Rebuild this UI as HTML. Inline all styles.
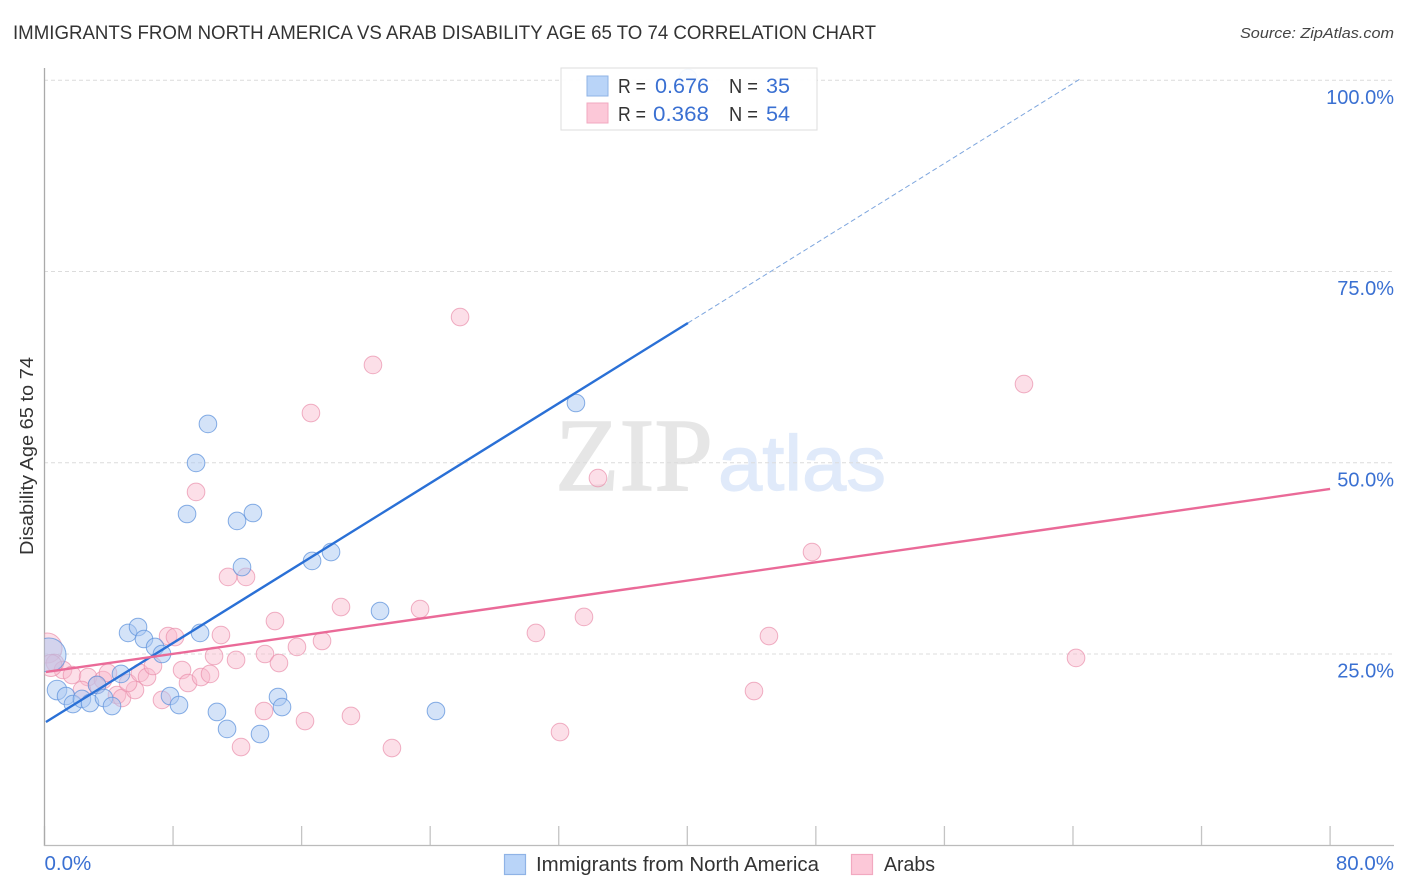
<!DOCTYPE html>
<html lang="en">
<head>
<meta charset="utf-8">
<title>Immigrants from North America vs Arab Disability Age 65 to 74 Correlation Chart</title>
<style>
html,body{margin:0;padding:0;background:#fff;}
svg{display:block;font-family:"Liberation Sans",sans-serif;}
</style>
</head>
<body>
<svg id="chart" xmlns="http://www.w3.org/2000/svg" width="1406" height="892" viewBox="0 0 1406 892">
  <defs>
    <clipPath id="plot-clip"><rect x="44.5" y="60" width="1350" height="786"/></clipPath>
  </defs>
  <text x="13" y="39" font-size="19.5" fill="#333" textLength="863" lengthAdjust="spacingAndGlyphs">IMMIGRANTS FROM NORTH AMERICA VS ARAB DISABILITY AGE 65 TO 74 CORRELATION CHART</text>
  <text x="1394" y="38" font-size="15" font-style="italic" fill="#444" text-anchor="end" textLength="154" lengthAdjust="spacingAndGlyphs">Source: ZipAtlas.com</text>
  <g>
    <text x="555" y="490" font-family="'Liberation Serif',serif" font-size="104" fill="#e6e6e6" stroke="#e6e6e6" stroke-width="1.4" textLength="158" lengthAdjust="spacingAndGlyphs">ZIP</text>
    <text x="718" y="490" font-size="78" fill="#e0eafa" stroke="#e0eafa" stroke-width="1.2" textLength="168" lengthAdjust="spacingAndGlyphs">atlas</text>
  </g>
  <g id="grid"></g>
  <g id="xticks"></g>
  <line x1="44.5" y1="68" x2="44.5" y2="846" stroke="#aaa" stroke-width="1.3"/>
  <line x1="44" y1="845.5" x2="1394" y2="845.5" stroke="#bbb" stroke-width="1.3"/>
  <g id="ylabels"></g>
  <g id="xlabels"></g>
  <text transform="translate(33,456) rotate(-90)" font-size="18.5" fill="#333" text-anchor="middle" textLength="198" lengthAdjust="spacingAndGlyphs">Disability Age 65 to 74</text>
  <g id="points" clip-path="url(#plot-clip)"></g>
  <g id="lines"></g>
  <g>
    <rect x="561" y="68" width="256" height="62" fill="#fff" fill-opacity="0.92" stroke="#ddd" stroke-width="1"/>
    <rect x="587" y="76" width="21" height="20" fill="#b9d4f8" stroke="#8fb3e6" stroke-width="1"/>
    <rect x="587" y="103" width="21" height="20" fill="#fcc8d8" stroke="#f2a9c0" stroke-width="1"/>
    <text x="618" y="93" font-size="20" fill="#333" textLength="28" lengthAdjust="spacingAndGlyphs">R =</text>
    <text x="655" y="93" font-size="21" fill="#3a70d2" textLength="54" lengthAdjust="spacingAndGlyphs">0.676</text>
    <text x="729" y="93" font-size="20" fill="#333" textLength="29" lengthAdjust="spacingAndGlyphs">N =</text>
    <text x="766" y="93" font-size="21" fill="#3a70d2" textLength="24" lengthAdjust="spacingAndGlyphs">35</text>
    <text x="618" y="121" font-size="20" fill="#333" textLength="28" lengthAdjust="spacingAndGlyphs">R =</text>
    <text x="653" y="121" font-size="21" fill="#3a70d2" textLength="56" lengthAdjust="spacingAndGlyphs">0.368</text>
    <text x="729" y="121" font-size="20" fill="#333" textLength="29" lengthAdjust="spacingAndGlyphs">N =</text>
    <text x="766" y="121" font-size="21" fill="#3a70d2" textLength="24" lengthAdjust="spacingAndGlyphs">54</text>
  </g>
  <g>
    <rect x="504.5" y="854.5" width="21" height="20" fill="#b9d4f8" stroke="#8fb3e6" stroke-width="1.2"/>
    <text x="536" y="871" font-size="20" fill="#333" textLength="283" lengthAdjust="spacingAndGlyphs">Immigrants from North America</text>
    <rect x="851.5" y="854.5" width="21" height="20" fill="#fcc8d8" stroke="#f2a9c0" stroke-width="1.2"/>
    <text x="884" y="871" font-size="20" fill="#333" textLength="51" lengthAdjust="spacingAndGlyphs">Arabs</text>
  </g>
</svg>
<script>
const immigrantsX = [0.28,0.78,1.34,1.77,2.33,2.83,3.27,3.70,4.20,4.76,5.20,5.82,6.19,6.88,7.31,7.81,8.37,8.87,9.43,9.68,10.17,10.73,11.36,11.98,12.29,12.97,13.41,14.53,14.78,16.65,17.83,20.88,24.36,33.07,40.04];
const immigrantsY = [24.87,20.29,19.51,18.46,19.12,18.59,20.95,19.25,18.20,22.39,27.75,28.53,26.96,25.92,25.00,19.51,18.33,43.30,49.97,27.75,55.07,17.42,15.20,42.39,36.37,43.43,14.54,19.38,18.07,37.16,38.33,30.62,17.55,57.81,100.29];
const arabsX = [0.16,0.65,1.15,1.71,2.71,3.64,3.27,3.95,2.33,4.51,4.82,5.63,5.20,5.94,6.38,6.75,7.31,7.69,8.12,8.56,8.93,9.74,10.30,10.55,10.98,11.92,11.42,12.54,13.72,14.59,14.34,13.66,12.23,15.71,16.21,9.43,16.58,17.27,18.45,19.07,20.44,21.62,23.37,25.86,30.58,32.08,33.57,34.44,44.15,45.08,47.76,60.95,64.19,0.40];
const arabsY = [25.78,23.82,22.91,22.25,21.99,21.60,20.95,22.52,20.29,19.64,19.25,20.29,21.21,22.52,21.99,23.43,18.99,27.35,27.22,22.91,21.21,21.99,22.39,24.74,27.48,24.22,35.07,35.07,25.00,23.82,29.31,17.55,12.84,25.92,16.24,46.18,56.50,26.70,31.14,16.90,62.78,12.71,30.88,69.05,27.75,14.80,29.84,48.00,20.16,27.35,38.33,60.29,24.48,23.50];
const immigrantsTrendX = [0.09,40.04];
const immigrantsTrendY = [16.11,68.27];
const immigrantsExtensionX = [40.04,64.44];
const immigrantsExtensionY = [68.27,100.16];
const arabsTrendX = [0.09,80];
const arabsTrendY = [22.65,46.57];
const yTicks = [25,50,75,100];
const yTickLabels = ["25.0%","50.0%","75.0%","100.0%"];
const xTicks = [0,8,16,24,32,40,48,56,64,72,80];
const xEndTicks = [0,80];
const xEndLabels = ["0.0%","80.0%"];

const NS = "http://www.w3.org/2000/svg";
function xScale(v){ return 44.5 + v * 16.07; }
function yScale(v){ return 654 - (v - 25) * 7.65; }

const grid = document.getElementById("grid");
const ylabels = document.getElementById("ylabels");
yTicks.forEach(function(t, i){
  const l = document.createElementNS(NS, "line");
  
  
  l.setAttribute("x1", 44);
  l.setAttribute("x2", 1394);
  l.setAttribute("y1", yScale(t));
  l.setAttribute("y2", yScale(t));
  l.setAttribute("stroke", "#dcdcdc");
  l.setAttribute("stroke-width", "1");
  l.setAttribute("stroke-dasharray", "4 3");
  grid.appendChild(l);
  const s = document.createElementNS(NS, "text");
  
  
  s.setAttribute("x", 1394);
  s.setAttribute("y", yScale(t) + 23.5);
  s.setAttribute("text-anchor", "end");
  s.setAttribute("font-size", "20");
  s.setAttribute("fill", "#3a70d2");
  s.textContent = yTickLabels[i];
  ylabels.appendChild(s);
});

const xticks = document.getElementById("xticks");
xTicks.forEach(function(t){
  const l = document.createElementNS(NS, "line");
  
  
  l.setAttribute("x1", xScale(t));
  l.setAttribute("x2", xScale(t));
  l.setAttribute("y1", 826);
  l.setAttribute("y2", 846);
  l.setAttribute("stroke", "#c4c4c4");
  l.setAttribute("stroke-width", "1.3");
  xticks.appendChild(l);
});

const xlabels = document.getElementById("xlabels");
xEndTicks.forEach(function(t, i){
  const s = document.createElementNS(NS, "text");
  
  
  s.setAttribute("x", i === 0 ? xScale(t) : 1394);
  s.setAttribute("y", 870);
  s.setAttribute("text-anchor", i === 0 ? "start" : "end");
  s.setAttribute("font-size", "20.5");
  s.setAttribute("fill", "#3a70d2");
  s.textContent = xEndLabels[i];
  xlabels.appendChild(s);
});

const points = document.getElementById("points");
arabsX.forEach(function(v, i){
  const c = document.createElementNS(NS, "circle");
  
  
  c.setAttribute("cx", xScale(v));
  c.setAttribute("cy", yScale(arabsY[i]));
  c.setAttribute("r", i === 0 ? 15 : (i === 53 ? 11 : 8.8));
  c.setAttribute("fill", "#f8b9cc");
  c.setAttribute("fill-opacity", "0.45");
  c.setAttribute("stroke", "#ea8fab");
  c.setAttribute("stroke-opacity", "0.7");
  c.setAttribute("stroke-width", "1");
  points.appendChild(c);
});
immigrantsX.forEach(function(v, i){
  const c = document.createElementNS(NS, "circle");
  
  
  c.setAttribute("cx", xScale(v));
  c.setAttribute("cy", yScale(immigrantsY[i]));
  c.setAttribute("r", i === 0 ? 17 : (i === 1 ? 9.8 : 8.8));
  c.setAttribute("fill", "#a9c8f2");
  c.setAttribute("fill-opacity", "0.5");
  c.setAttribute("stroke", "#5f93dc");
  c.setAttribute("stroke-opacity", "0.75");
  c.setAttribute("stroke-width", "1");
  points.appendChild(c);
});

const lines = document.getElementById("lines");
const ext = document.createElementNS(NS, "line");


ext.setAttribute("x1", xScale(immigrantsExtensionX[0]));
ext.setAttribute("y1", yScale(immigrantsExtensionY[0]));
ext.setAttribute("x2", xScale(immigrantsExtensionX[1]));
ext.setAttribute("y2", yScale(immigrantsExtensionY[1]));
ext.setAttribute("stroke", "#7ea6de");
ext.setAttribute("stroke-width", "1");
ext.setAttribute("stroke-dasharray", "5 3");
lines.appendChild(ext);
const blueLine = document.createElementNS(NS, "line");


blueLine.setAttribute("x1", xScale(immigrantsTrendX[0]));
blueLine.setAttribute("y1", yScale(immigrantsTrendY[0]));
blueLine.setAttribute("x2", xScale(immigrantsTrendX[1]));
blueLine.setAttribute("y2", yScale(immigrantsTrendY[1]));
blueLine.setAttribute("stroke", "#2a70d6");
blueLine.setAttribute("stroke-width", "2.4");
lines.appendChild(blueLine);
const pinkLine = document.createElementNS(NS, "line");


pinkLine.setAttribute("x1", xScale(arabsTrendX[0]));
pinkLine.setAttribute("y1", yScale(arabsTrendY[0]));
pinkLine.setAttribute("x2", xScale(arabsTrendX[1]));
pinkLine.setAttribute("y2", yScale(arabsTrendY[1]));
pinkLine.setAttribute("stroke", "#ea6a98");
pinkLine.setAttribute("stroke-width", "2.4");
lines.appendChild(pinkLine);
</script>
</body>
</html>
